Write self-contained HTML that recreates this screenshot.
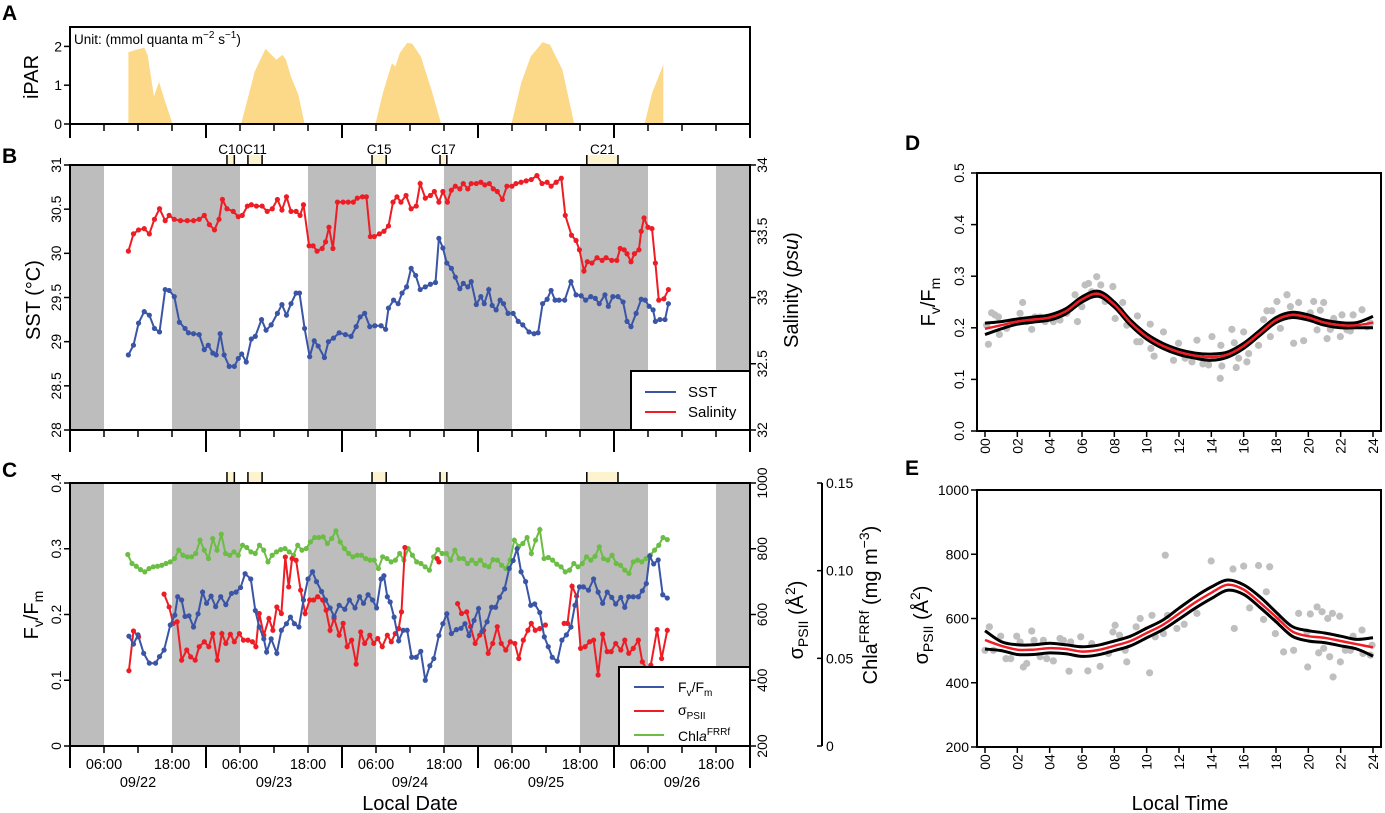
<!DOCTYPE html>
<html><head><meta charset="utf-8"><style>
html,body{margin:0;padding:0;background:#fff;}
svg{display:block;font-family:"Liberation Sans",Arial,sans-serif;}
</style></head><body>
<svg id="fig" width="1385" height="813" viewBox="0 0 1385 813"></svg>
<script>
// ---------- data ----------
const parT=[[10.3,11.6,13.1,13.7,14.3,14.8,15.7,16.7,17.6,18.1],[30.2,31.3,32.6,34.5,36.4,37.5,38.1,39.0,40.3,41.4],[53.9,55.2,56.8,57.4,58.2,59.5,60.4,61.9,63.8,65.5],[77.9,79.6,81.3,83.4,84.7,86.9,89.0],[101.4,102.7,104.7]];
const parV=[[1.85,1.91,1.97,1.78,1.22,0.71,1.09,0.62,0.23,0],[0,0.62,1.35,1.94,1.66,1.78,1.66,1.22,0.75,0],[0,0.79,1.57,1.48,1.83,2.09,2.07,1.74,0.88,0],[0,1.05,1.74,2.11,2.04,1.40,0],[0,0.79,1.53]];
const sstT=[10.3,11.2,12.1,13.1,14.0,14.9,15.8,16.8,17.5,18.4,19.3,20.3,20.9,21.8,22.8,23.7,24.4,25.2,25.8,26.5,27.2,28.1,29.0,29.7,30.3,31.1,32.0,32.7,33.8,34.6,35.5,36.6,37.4,38.2,39.0,39.9,40.5,41.4,42.3,43.1,43.8,44.9,45.6,46.5,47.5,48.6,49.6,50.5,51.2,52.0,52.9,53.8,54.9,55.7,56.2,57.1,57.9,58.6,59.4,60.2,61.0,61.8,62.7,63.6,64.5,65.1,65.8,66.5,67.3,68.0,68.8,69.4,70.2,70.8,71.7,72.5,73.1,73.9,74.5,75.2,75.9,76.5,77.3,78.2,79.1,79.9,81.0,81.9,82.6,83.4,84.2,84.9,85.6,86.3,87.3,88.4,89.3,90.2,91.0,91.9,92.7,93.4,94.4,95.0,95.8,96.7,97.6,98.3,99.0,99.9,100.8,101.5,102.2,102.9,103.3,104.1,105.0,105.6];
const sstV=[28.85,28.96,29.21,29.34,29.30,29.15,29.11,29.59,29.58,29.51,29.22,29.15,29.10,29.09,29.08,28.91,28.96,28.87,28.85,29.09,28.85,28.72,28.72,28.81,28.86,28.77,29.03,29.06,29.25,29.13,29.19,29.32,29.42,29.30,29.43,29.55,29.55,29.15,28.83,29.01,28.95,28.82,29.00,29.04,29.10,29.08,29.06,29.17,29.28,29.32,29.17,29.18,29.18,29.14,29.38,29.47,29.43,29.55,29.62,29.83,29.75,29.59,29.62,29.65,29.67,30.17,30.06,29.89,29.83,29.73,29.60,29.66,29.62,29.68,29.42,29.51,29.43,29.59,29.41,29.36,29.47,29.43,29.32,29.32,29.23,29.19,29.11,29.09,29.10,29.43,29.48,29.58,29.47,29.47,29.47,29.68,29.53,29.52,29.47,29.51,29.49,29.43,29.53,29.40,29.51,29.51,29.45,29.23,29.17,29.32,29.48,29.47,29.40,29.36,29.23,29.25,29.25,29.43];
const salT=[10.3,11.2,12.1,13.1,14.0,14.9,15.8,16.8,17.5,18.4,19.5,20.7,21.8,22.8,23.7,24.6,25.5,26.3,26.9,27.7,28.8,29.7,30.4,31.3,32.0,32.9,33.9,34.8,35.7,36.6,37.4,38.2,39.0,39.9,40.6,41.2,42.2,42.9,43.6,44.5,45.1,45.7,46.4,47.2,48.2,49.1,50.0,50.7,51.6,52.3,53.0,53.7,54.6,55.4,56.2,57.0,57.7,58.4,59.3,60.2,61.1,61.8,62.7,63.6,64.3,65.1,65.8,66.6,67.3,68.0,68.8,69.4,70.2,70.8,71.7,72.5,73.2,74.0,74.7,75.4,76.3,77.1,78.0,78.7,79.6,80.5,81.4,82.4,83.3,84.2,84.9,85.8,86.7,87.4,88.5,89.3,89.9,90.7,91.3,92.1,93.0,93.9,94.6,95.6,96.5,97.1,97.8,98.3,99.0,99.6,100.4,100.8,101.3,102.0,102.7,103.3,103.9,104.8,105.6];
const salV=[33.35,33.48,33.51,33.52,33.48,33.59,33.67,33.58,33.62,33.59,33.58,33.58,33.58,33.59,33.62,33.55,33.51,33.59,33.74,33.67,33.65,33.61,33.62,33.69,33.70,33.69,33.69,33.65,33.67,33.74,33.66,33.76,33.65,33.65,33.62,33.70,33.39,33.39,33.35,33.37,33.42,33.53,33.37,33.72,33.72,33.72,33.72,33.75,33.76,33.76,33.46,33.46,33.48,33.50,33.54,33.72,33.76,33.72,33.77,33.67,33.69,33.86,33.75,33.77,33.80,33.72,33.80,33.72,33.81,33.84,33.82,33.86,33.82,33.86,33.86,33.87,33.85,33.86,33.82,33.80,33.74,33.84,33.84,33.86,33.87,33.88,33.89,33.92,33.86,33.87,33.84,33.87,33.90,33.62,33.47,33.43,33.36,33.20,33.27,33.26,33.30,33.28,33.30,33.28,33.28,33.37,33.36,33.33,33.27,33.33,33.36,33.50,33.60,33.53,33.52,33.26,32.98,32.99,33.06];
const fvT=[10.4,11.2,12.0,13.0,14.0,15.1,15.8,16.6,17.7,18.5,19.0,19.7,20.3,21.0,21.8,22.6,23.4,24.1,24.9,25.7,26.6,27.5,28.5,29.3,30.1,30.9,31.9,32.7,33.4,34.2,34.7,35.5,36.5,37.3,38.2,38.9,39.6,40.4,41.2,42.0,42.8,43.5,44.4,45.1,45.9,46.6,47.5,48.5,49.3,50.3,51.1,51.8,52.6,53.4,54.1,54.9,55.4,56.0,56.5,57.2,58.0,58.8,59.5,60.3,61.1,61.9,62.7,63.5,64.2,65.1,65.8,66.5,67.3,68.2,69.0,69.7,70.4,71.3,72.1,72.7,73.6,74.4,75.1,75.8,76.7,77.5,78.2,78.9,79.6,80.4,81.3,82.0,82.9,83.7,84.4,85.1,86.0,86.8,87.6,88.4,89.1,89.9,90.6,91.5,92.4,93.2,94.0,94.8,95.6,96.3,97.2,97.9,98.6,99.4,100.3,101.0,101.7,102.3,103.0,103.8,104.6,105.4];
const fvV=[.167,.155,.169,.141,.126,.126,.136,.146,.184,.199,.227,.222,.197,.198,.181,.201,.234,.217,.228,.212,.227,.215,.232,.234,.241,.262,.254,.206,.181,.163,.143,.163,.141,.176,.186,.196,.186,.181,.222,.254,.265,.250,.235,.222,.210,.197,.214,.208,.222,.210,.227,.217,.230,.222,.210,.254,.259,.227,.219,.196,.160,.176,.176,.135,.135,.144,.100,.122,.133,.168,.186,.201,.171,.177,.179,.186,.168,.191,.209,.174,.189,.211,.211,.226,.239,.270,.282,.300,.265,.250,.214,.216,.203,.166,.151,.135,.129,.161,.169,.181,.214,.242,.242,.237,.254,.234,.217,.234,.226,.216,.226,.211,.227,.227,.227,.236,.247,.289,.277,.283,.230,.225];
const sigT=[10.4,11.2,12.1,null,16.6,17.5,18.2,18.9,19.7,20.6,21.3,22.1,22.8,23.7,24.5,25.2,26.0,26.8,27.5,28.3,29.0,29.9,30.6,31.4,32.2,32.8,33.4,34.2,35.1,35.8,36.5,37.3,38.0,38.6,39.2,39.9,40.7,41.5,42.3,43.0,43.7,44.6,45.2,45.9,46.6,47.5,48.2,48.9,49.7,50.5,51.3,52.0,52.9,53.6,54.3,55.1,56.0,56.7,57.4,58.0,58.5,59.1,null,64.8,65.1,null,68.4,69.1,70.0,70.7,71.5,72.3,73.0,73.8,74.6,75.4,76.1,76.9,77.7,78.5,79.2,80.0,80.8,81.4,82.1,82.9,83.9,null,87.2,87.8,88.6,89.4,90.1,90.9,91.7,92.4,93.2,94.0,94.8,95.5,96.3,97.2,97.9,98.6,99.4,100.3,101.0,101.7,102.5,103.6,104.4,105.4];
const sigV=[429,550,532,null,662,623,573,578,461,492,471,461,502,517,502,542,461,542,512,540,517,542,522,522,517,502,603,537,588,552,623,603,775,684,770,765,674,603,644,644,654,644,613,552,588,537,573,502,522,449,547,512,537,512,527,502,537,517,542,557,608,804,null,770,760,null,633,603,608,563,512,537,552,482,512,563,512,492,517,512,466,522,552,573,552,557,568,null,573,573,686,656,497,502,517,522,416,540,487,487,512,492,522,482,497,522,456,436,446,554,466,552];
const chlStartHour=10.2, chlEndHour=105.4;
const chlV=[.1092,.1041,.1025,.1006,.0993,.1012,.1022,.1025,.1031,.1041,.1050,.1069,.1117,.1088,.1079,.1079,.1098,.1174,.1117,.1069,.1183,.1117,.1208,.1098,.1088,.1107,.1088,.1145,.1132,.1107,.1098,.1145,.1117,.1050,.1088,.1107,.1120,.1126,.1107,.1088,.1145,.1117,.1126,.1164,.1189,.1189,.1193,.1155,.1183,.1227,.1164,.1126,.1098,.1079,.1088,.1088,.1069,.1060,.1060,.1012,.1079,.1069,.1050,.1060,.1098,.1060,.1126,.1088,.1050,.1041,.1022,.1003,.1079,.1120,.1098,.1098,.1060,.1117,.1069,.1069,.1041,.1060,.1041,.1060,.1031,.1022,.1063,.1060,.1031,.1012,.1060,.1174,.1139,.1155,.1189,.1098,.1174,.1234,.1069,.1075,.1060,.1037,.1022,.0993,.1003,.1041,.1022,.1041,.1079,.1060,.1082,.1136,.1069,.1060,.1088,.1041,.1031,.1003,.0984,.1050,.1060,.1050,.1069,.1088,.1117,.1145,.1189,.1177];
const cruiseNames=["C10","C11","C15","C17","C21"];
const cruiseStart=[27.7,31.4,53.3,65.3,91.2];
const cruiseEnd=[29.0,33.9,55.8,66.5,96.7];
// panel D
const dH=[0.10,0.21,0.41,0.62,0.83,0.89,1.34,1.75,2.17,2.33,2.58,2.89,3.10,3.41,3.72,4.02,4.23,4.64,5.06,5.30,5.57,5.72,5.99,6.19,6.40,6.60,6.91,7.16,7.43,7.91,8.05,8.36,8.52,8.77,9.39,9.43,9.60,10.22,10.26,10.46,11.04,11.15,11.66,11.97,12.38,12.80,13.11,13.48,13.83,14.04,14.55,14.59,14.65,15.27,15.42,15.54,15.69,16.00,16.20,16.31,16.92,17.23,17.44,17.65,17.75,18.06,18.27,18.68,18.89,19.09,19.40,19.71,20.12,20.33,20.54,20.74,20.95,21.16,21.36,21.57,21.98,22.08,22.39,22.60,22.77,23.32,23.63,23.84];
const dV=[.205,.168,.229,.225,.221,.187,.199,.212,.228,.249,.212,.197,.221,.221,.212,.221,.212,.215,.228,.238,.264,.212,.241,.283,.286,.270,.299,.283,.251,.280,.218,.234,.249,.205,.173,.223,.173,.207,.160,.145,.192,.163,.137,.170,.141,.134,.176,.130,.128,.183,.102,.166,.126,.197,.171,.123,.141,.192,.134,.150,.166,.216,.233,.183,.233,.251,.199,.264,.241,.170,.249,.175,.229,.251,.196,.234,.249,.179,.197,.218,.183,.225,.196,.194,.225,.235,.202,.209];
const fitHours=[0,1,2,3,4,5,6,7,8,9,10,11,12,13,14,15,16,17,18,19,20,21,22,23,24];
const dMean=[.198,.205,.212,.216,.220,.232,.255,.266,.245,.210,.183,.165,.153,.146,.143,.148,.165,.190,.215,.225,.220,.210,.205,.205,.210];
const dUp=[.209,.212,.217,.221,.225,.237,.260,.271,.250,.215,.188,.170,.158,.151,.149,.153,.170,.195,.220,.230,.225,.215,.210,.210,.222];
const dLo=[.187,.198,.207,.211,.215,.227,.250,.261,.240,.205,.178,.160,.148,.141,.137,.143,.160,.185,.210,.220,.215,.205,.200,.200,.200];
// panel E
const eH=[0.00,0.27,0.52,0.97,1.30,1.59,1.96,2.17,2.37,2.58,2.89,3.03,3.41,3.61,3.82,4.23,4.64,4.85,5.20,5.30,5.92,6.36,6.60,7.12,7.64,7.91,8.05,8.32,8.67,8.77,9.35,9.60,10.18,10.33,10.53,11.04,11.15,11.29,11.87,12.32,13.11,13.99,15.34,15.42,16.00,16.37,16.92,17.23,17.40,17.61,17.96,18.06,18.47,19.09,19.40,19.92,19.96,20.12,20.54,20.64,20.85,20.95,21.20,21.32,21.49,21.53,21.94,21.98,22.29,22.60,22.77,23.32,23.38,23.84,23.94];
const eV=[501,574,501,545,475,475,545,527,449,460,561,532,481,532,475,468,538,532,436,527,543,437,522,451,491,558,579,548,501,465,574,600,431,610,543,553,797,610,569,582,616,779,754,569,763,633,765,597,683,761,553,595,496,501,616,558,449,614,636,493,621,507,600,481,616,418,607,465,501,501,545,564,491,486,517];
const eMean=[533,515,503,503,508,505,497,502,515,530,555,580,615,650,680,705,690,650,605,560,545,540,530,520,510];
const eUp=[562,528,518,518,523,518,512,517,530,545,570,595,632,668,698,720,705,668,620,575,562,555,545,535,540];
const eLo=[505,500,488,488,493,490,482,487,500,515,540,565,598,632,662,688,675,635,590,545,530,525,515,505,483];

// ---------- drawing ----------
const NS="http://www.w3.org/2000/svg";
const svg=document.getElementById('fig');
function mk(tag,a,parent){const e=document.createElementNS(NS,tag);for(const k in a)e.setAttribute(k,a[k]);(parent||svg).appendChild(e);return e;}
function txt(s,x,y,size,anchor,rot,parent,weight){const e=mk('text',{x:x,y:y,'font-size':size,'text-anchor':anchor||'middle',fill:'#000'},parent);if(weight)e.setAttribute('font-weight',weight);if(rot)e.setAttribute('transform','rotate('+rot+' '+x+' '+y+')');e.textContent=s;return e;}
const X=t=>70+t*680/120;
const L=70,R=750;
const nights=[[0,6],[18,30],[42,54],[66,78],[90,102],[114,120]];
const BLUE="#3a55a6",RED="#ee1d25",GREEN="#6cbd45",GRAY="#bdbdbd";

// Panel letters
for(const [s,x,y] of [["A",2,20],["B",2,163],["C",2,477],["D",905,150],["E",905,475]]){
  const e=txt(s,x,y,21,'start',0,null,'bold');
  
  
}

// time ticks helper
function timeTicks(yb,minLen,majLen,name){
  const g=mk('g',{});
  
  
  for(let t=0;t<=120;t+=6){const maj=t%24===0;mk('line',{x1:X(t),x2:X(t),y1:yb,y2:yb+(maj?majLen:minLen),stroke:'#000','stroke-width':maj?2:1.5},g);}
}
function bands(top,bot,name){
  const g=mk('g',{});
  
  
  for(const [a,b] of nights)mk('rect',{x:X(a),y:top,width:X(b)-X(a),height:bot-top,fill:GRAY},g);
}
function series(T,V,xf,yf,color,name){
  const g=mk('g',{});
  
  
  let d='',pen=false;
  for(let i=0;i<T.length;i++){
    if(T[i]===null||V[i]===null){pen=false;continue;}
    d+=(pen?'L':'M')+xf(T[i]).toFixed(1)+' '+yf(V[i]).toFixed(1);pen=true;
  }
  mk('path',{d:d,fill:'none',stroke:color,'stroke-width':2},g);
  for(let i=0;i<T.length;i++){if(T[i]===null||V[i]===null)continue;mk('circle',{cx:xf(T[i]),cy:yf(V[i]),r:2.6,fill:color},g);}
}

// ===== Panel A =====
const aTop=27,aBot=124,yA=v=>aBot-v*(aBot-aTop)/2.5;
const gA=mk('g',{});


for(let k=0;k<parT.length;k++){
  let d='M'+X(parT[k][0])+' '+yA(0);
  for(let i=0;i<parT[k].length;i++)d+='L'+X(parT[k][i]).toFixed(1)+' '+yA(parV[k][i]).toFixed(1);
  d+='L'+X(parT[k][parT[k].length-1]).toFixed(1)+' '+yA(0)+'Z';
  mk('path',{d:d,fill:'#fcd989'},gA);
}
const boxA=mk('rect',{x:L,y:aTop,width:R-L,height:aBot-aTop,fill:'none',stroke:'#000','stroke-width':2});


for(const v of [0,1,2]){mk('line',{x1:L-6,x2:L,y1:yA(v),y2:yA(v),stroke:'#000','stroke-width':1.5});const t=txt(String(v),L-8,yA(v)+5,14,'end');}
timeTicks(aBot,7,14,'ipar-time-ticks');
let e=txt('iPAR',38,77,20,'middle',-90);
e=mk('text',{x:74,y:44,'font-size':13.5,fill:'#000'});


e.innerHTML='Unit: (mmol quanta m<tspan dy="-6" font-size="10">−2</tspan><tspan dy="6"> s</tspan><tspan dy="-6" font-size="10">−1</tspan><tspan dy="6">)</tspan>';

// cruise markers
function cruiseStrip(top,bot,labels,name){
  const g=mk('g',{});
  
  
  for(let i=0;i<cruiseNames.length;i++){
    const x1=X(cruiseStart[i]),x2=X(cruiseEnd[i]);
    mk('rect',{x:x1,y:top,width:x2-x1,height:bot-top,fill:'#fdf3cf'},g);
    mk('line',{x1:x1,x2:x1,y1:top,y2:bot,stroke:'#000','stroke-width':1.5},g);
    mk('line',{x1:x2,x2:x2,y1:top,y2:bot,stroke:'#000','stroke-width':1.5},g);
    if(labels){const t=txt(cruiseNames[i],(x1+x2)/2,top-1,13.5,'middle',0,g);}
  }
}

// ===== Panel B =====
const bTop=165,bBot=430;
const yS=v=>bBot-(v-28)/3*(bBot-bTop);
const ySal=v=>bBot-(v-32)/2*(bBot-bTop);
bands(bTop,bBot,'night-bands-b');
cruiseStrip(155,bTop,true,'cruise-markers-b');
series(sstT,sstV,X,yS,BLUE,'sst-series');
series(salT,salV,X,ySal,RED,'salinity-series');
e=mk('rect',{x:L,y:bTop,width:R-L,height:bBot-bTop,fill:'none',stroke:'#000','stroke-width':2});


for(const v of [28,28.5,29,29.5,30,30.5,31]){mk('line',{x1:L-6,x2:L,y1:yS(v),y2:yS(v),stroke:'#000','stroke-width':1.5});const t=txt(String(v),L-9,yS(v),14,'middle',-90);}
for(const v of [32,32.5,33,33.5,34]){mk('line',{x1:R,x2:R+6,y1:ySal(v),y2:ySal(v),stroke:'#000','stroke-width':1.5});const t=txt(String(v),R+17,ySal(v),14,'middle',-90);}
timeTicks(bBot,7,22,'sst-time-ticks');
e=txt('SST (°C)',40,300,20,'middle',-90);
e=mk('text',{x:798,y:290,'font-size':20,'text-anchor':'middle',transform:'rotate(-90 798 290)'});


e.innerHTML='Salinity (<tspan font-style="italic">psu</tspan>)';
const lgB=mk('g',{});


mk('rect',{x:631,y:371,width:119,height:59,fill:'#fff',stroke:'#000','stroke-width':2},lgB);
mk('line',{x1:645,x2:676,y1:392,y2:392,stroke:BLUE,'stroke-width':2},lgB);
mk('line',{x1:645,x2:676,y1:412,y2:412,stroke:RED,'stroke-width':2},lgB);
txt('SST',688,397,15,'start',0,lgB);
txt('Salinity',688,417,15,'start',0,lgB);

// ===== Panel C =====
const cTop=483,cBot=746;
const yF=v=>cBot-v/0.4*(cBot-cTop);
const ySig=v=>cBot-(v-200)/800*(cBot-cTop);
const yChl=v=>cBot-v/0.15*(cBot-cTop);
bands(cTop,cBot,'night-bands-c');
cruiseStrip(472,cTop,false,'cruise-markers-c');
const chlT=chlV.map((v,i)=>chlStartHour+i*(chlEndHour-chlStartHour)/(chlV.length-1));
series(chlT,chlV,X,yChl,GREEN,'chla-series');
series(sigT,sigV,X,ySig,RED,'sigma-psii-series');
series(fvT,fvV,X,yF,BLUE,'fvfm-series');
e=mk('rect',{x:L,y:cTop,width:R-L,height:cBot-cTop,fill:'none',stroke:'#000','stroke-width':2});


for(const v of [0,0.1,0.2,0.3,0.4]){mk('line',{x1:L-6,x2:L,y1:yF(v),y2:yF(v),stroke:'#000','stroke-width':1.5});const t=txt(String(v),L-9,yF(v),14,'middle',-90);}
for(const v of [200,400,600,800,1000]){mk('line',{x1:R,x2:R+6,y1:ySig(v),y2:ySig(v),stroke:'#000','stroke-width':1.5});const t=txt(String(v),R+17,ySig(v),14,'middle',-90);}
const cx2=822;
e=mk('line',{x1:cx2,x2:cx2,y1:cTop,y2:cBot,stroke:'#000','stroke-width':2});


for(const [v,s] of [[0,'0'],[0.05,'0.05'],[0.10,'0.10'],[0.15,'0.15']]){mk('line',{x1:cx2-5,x2:cx2,y1:yChl(v),y2:yChl(v),stroke:'#000','stroke-width':1.5});const t=txt(s,cx2+4,yChl(v)+5,14,'start');}
timeTicks(cBot,7,22,'date-time-ticks');
for(let t=6;t<120;t+=12){const s=(t%24===6)?'06:00':'18:00';const l=txt(s,X(t),769,14.5,'middle');}
const dates=['09/22','09/23','09/24','09/25','09/26'];
for(let i=0;i<5;i++){const l=txt(dates[i],X(i*24+12),787,14.5,'middle');}
e=txt('Local Date',410,810,20,'middle');
e=mk('text',{x:38,y:615,'font-size':20,'text-anchor':'middle',transform:'rotate(-90 38 615)'});


e.innerHTML='F<tspan dy="5" font-size="14">v</tspan><tspan dy="-5">/F</tspan><tspan dy="5" font-size="14">m</tspan>';
e=mk('text',{x:803,y:620,'font-size':20,'text-anchor':'middle',transform:'rotate(-90 803 620)'});


e.innerHTML='σ<tspan dy="5" font-size="14">PSII</tspan><tspan dy="-5"> (Å</tspan><tspan dy="-8" font-size="14">2</tspan><tspan dy="8">)</tspan>';
e=mk('text',{x:877,y:605,'font-size':20,'text-anchor':'middle',transform:'rotate(-90 877 605)'});


e.innerHTML='Chla<tspan dy="-8" font-size="14">FRRf</tspan><tspan dy="8"> (mg m</tspan><tspan dy="-8" font-size="14">−3</tspan><tspan dy="8">)</tspan>';
const lgC=mk('g',{});


mk('rect',{x:619,y:667,width:131,height:79,fill:'#fff',stroke:'#000','stroke-width':2},lgC);
mk('line',{x1:634,x2:664,y1:687,y2:687,stroke:BLUE,'stroke-width':2},lgC);
mk('line',{x1:634,x2:664,y1:711,y2:711,stroke:RED,'stroke-width':2},lgC);
mk('line',{x1:634,x2:664,y1:735,y2:735,stroke:GREEN,'stroke-width':2},lgC);
let lt=mk('text',{x:678,y:692,'font-size':14},lgC);lt.innerHTML='F<tspan dy="4" font-size="10">v</tspan><tspan dy="-4">/F</tspan><tspan dy="4" font-size="10">m</tspan>';
lt=mk('text',{x:678,y:715,'font-size':14},lgC);lt.innerHTML='σ<tspan dy="4" font-size="10">PSII</tspan>';
lt=mk('text',{x:678,y:741,'font-size':14},lgC);lt.innerHTML='Chl<tspan font-style="italic">a</tspan><tspan dy="-6" font-size="10">FRRf</tspan>';

// ===== Panels D & E =====
const dL=977,dR=1381;
const XH=h=>985+h*(1373-985)/24;
function smooth(H,V,xf,yf){let d='M'+xf(H[0]).toFixed(1)+' '+yf(V[0]).toFixed(1);
  for(let i=0;i<H.length-1;i++){const p0=i>0?i-1:i,p3=i+2<H.length?i+2:i+1;
    const x0=xf(H[p0]),y0=yf(V[p0]),x1=xf(H[i]),y1=yf(V[i]),x2=xf(H[i+1]),y2=yf(V[i+1]),x3=xf(H[p3]),y3=yf(V[p3]);
    d+='C'+(x1+(x2-x0)/6).toFixed(1)+' '+(y1+(y2-y0)/6).toFixed(1)+' '+(x2-(x3-x1)/6).toFixed(1)+' '+(y2-(y3-y1)/6).toFixed(1)+' '+x2.toFixed(1)+' '+y2.toFixed(1);}
  return d;}
function diel(top,bot,yf,H,V,M,U,Lo,key){
  const g=mk('g',{});
  
  
  for(let i=0;i<H.length;i++)mk('circle',{cx:XH(H[i]),cy:yf(V[i]),r:3.6,fill:'#bfbfbf'},g);
  let p=mk('path',{d:smooth(fitHours,U,XH,yf),fill:'none',stroke:'#000','stroke-width':3});
  
  
  p=mk('path',{d:smooth(fitHours,Lo,XH,yf),fill:'none',stroke:'#000','stroke-width':3});
  
  
  p=mk('path',{d:smooth(fitHours,M,XH,yf),fill:'none',stroke:RED,'stroke-width':2.5});
  
  
  p=mk('rect',{x:dL,y:top,width:dR-dL,height:bot-top,fill:'none',stroke:'#000','stroke-width':2});
  
  
  for(let h=0;h<=24;h+=2){mk('line',{x1:XH(h),x2:XH(h),y1:bot,y2:bot+6,stroke:'#000','stroke-width':1.5});
    const t=txt((h<10?'0':'')+h,XH(h),bot+15,14,'middle',-90);t.setAttribute('dominant-baseline','central');}
}
const yD=v=>431-v/0.5*(431-173);
diel(173,431,yD,dH,dV,dMean,dUp,dLo,'fvfm-diel');
for(const v of [0,0.1,0.2,0.3,0.4,0.5]){mk('line',{x1:dL-6,x2:dL,y1:yD(v),y2:yD(v),stroke:'#000','stroke-width':1.5});const t=txt(v.toFixed(1),dL-13,yD(v),14,'middle',-90);}
e=mk('text',{x:935,y:302,'font-size':20,'text-anchor':'middle',transform:'rotate(-90 935 302)'});


e.innerHTML='F<tspan dy="5" font-size="14">v</tspan><tspan dy="-5">/F</tspan><tspan dy="5" font-size="14">m</tspan>';
const yE=v=>747-(v-200)/800*(747-490);
diel(490,747,yE,eH,eV,eMean,eUp,eLo,'sigma-diel');
for(const v of [200,400,600,800,1000]){mk('line',{x1:dL-6,x2:dL,y1:yE(v),y2:yE(v),stroke:'#000','stroke-width':1.5});const t=txt(String(v),dL-8,yE(v)+5,14,'end');}
e=mk('text',{x:928,y:625,'font-size':20,'text-anchor':'middle',transform:'rotate(-90 928 625)'});


e.innerHTML='σ<tspan dy="5" font-size="14">PSII</tspan><tspan dy="-5"> (Å</tspan><tspan dy="-8" font-size="14">2</tspan><tspan dy="8">)</tspan>';
e=txt('Local Time',1180,810,20,'middle');
</script>
</body></html>
